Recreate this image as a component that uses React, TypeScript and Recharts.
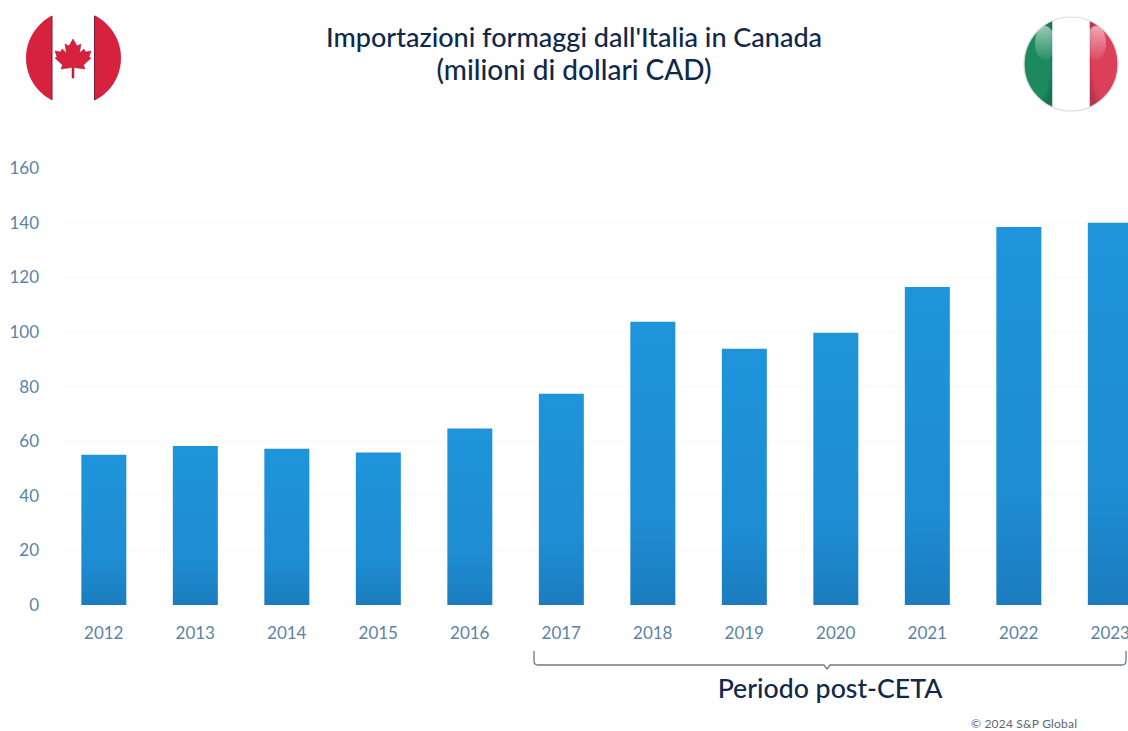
import { BarChart, Bar, XAxis, YAxis, CartesianGrid } from 'recharts'

const years = ['2012', '2013', '2014', '2015', '2016', '2017', '2018', '2019', '2020', '2021', '2022', '2023']
const imports = [55, 58.2, 57.2, 55.8, 64.6, 77.3, 103.7, 93.8, 99.7, 116.4, 138.4, 140]
const yTicks = [0, 20, 40, 60, 80, 100, 120, 140, 160]

const data = years.map((year, i) => ({ year, value: imports[i] }))

const NAVY = '#10294a'
const TICK = '#5a84a6'
const FONT = 'Lato, "Noto Sans", sans-serif'

function CanadaFlag() {
  return (
    <svg style={{ position: 'absolute', left: 20, top: 10, width: 106, height: 96 }} viewBox="20 10 106 96">
      <defs>
        <clipPath id="ca-disc">
          <circle cx="73.5" cy="58" r="47.5" />
        </clipPath>
      </defs>
      <g clipPath="url(#ca-disc)">
        <rect x="20" y="10" width="32" height="96" fill="#d6213f" />
        <rect x="94.5" y="10" width="32" height="96" fill="#d6213f" />
      </g>
      <line x1="52" y1="16" x2="52" y2="100" stroke="#7e1a30" strokeWidth="1" />
      <line x1="94.5" y1="16" x2="94.5" y2="100" stroke="#7e1a30" strokeWidth="1" />
      {/* maple leaf */}
      <path
        d="M73 39 L77 46 L81 44 L79.5 53 L84 49 L85.5 52 L91 51 L89 57 L91 58 L83.5 65 L85 69 L74 67.5 L74 78 L72 78 L72 67.5 L61 69 L62.5 65 L55 58 L57 57 L55 51 L60.5 52 L62 49 L66.5 53 L65 44 L69 46 Z"
        fill="#d6213f"
        stroke="#a51733"
        strokeWidth="0.5"
      />
    </svg>
  )
}

function ItalyFlag() {
  return (
    <svg style={{ position: 'absolute', left: 1018, top: 12, width: 106, height: 104 }} viewBox="1018 12 106 104">
      <defs>
        <clipPath id="it-disc">
          <circle cx="1071" cy="64" r="47" />
        </clipPath>
        <linearGradient id="it-gloss" x1="0" y1="0" x2="0" y2="1">
          <stop offset="0%" stopColor="#ffffff" stopOpacity="0.55" />
          <stop offset="100%" stopColor="#ffffff" stopOpacity="0.05" />
        </linearGradient>
        <radialGradient id="it-shade" cx="50%" cy="45%" r="55%">
          <stop offset="75%" stopColor="#000000" stopOpacity="0" />
          <stop offset="100%" stopColor="#000000" stopOpacity="0.18" />
        </radialGradient>
      </defs>
      <g clipPath="url(#it-disc)">
        <rect x="1018" y="12" width="34.5" height="104" fill="#1c8a5e" />
        <rect x="1089.5" y="12" width="34.5" height="104" fill="#dc3f58" />
        <rect x="1018" y="12" width="34.5" height="104" fill="url(#it-shade)" />
        <rect x="1089.5" y="12" width="34.5" height="104" fill="url(#it-shade)" />
        <rect x="1052.5" y="12" width="37" height="104" fill="#ffffff" />
        <ellipse cx="1045" cy="43" rx="10" ry="17" fill="url(#it-gloss)" />
        <ellipse cx="1096" cy="43" rx="10" ry="17" fill="url(#it-gloss)" />
      </g>
      <circle cx="1071" cy="64" r="47" fill="none" stroke="#dcdfdd" strokeWidth="1.2" />
    </svg>
  )
}

export default function App() {
  return (
    <div style={{ position: 'absolute', left: 0, top: 0, width: 1128, height: 731, overflow: 'hidden', background: '#fff', fontFamily: FONT }}>
      <CanadaFlag />
      <ItalyFlag />

      <div
        style={{
          position: 'absolute',
          left: 274,
          width: 600,
          top: 20,
          textAlign: 'center',
          color: NAVY,
          fontSize: 27,
          lineHeight: '33px',
          fontWeight: 500,
        }}
      >
        Importazioni formaggi dall'Italia in Canada
        <br />
        <span style={{ fontSize: 28 }}>(milioni di dollari CAD)</span>
      </div>

      <BarChart
        width={1170}
        height={731}
        data={data}
        margin={{ top: 168, right: 14, bottom: 0, left: 0 }}
        barCategoryGap="25.5%"
        style={{ position: 'absolute', left: 0, top: 0 }}
      >
        <defs>
          <linearGradient id="bar-fill" x1="0" y1="0" x2="0" y2="1">
            <stop offset="0%" stopColor="#1f94da" />
            <stop offset="70%" stopColor="#1e8dd3" />
            <stop offset="100%" stopColor="#1b7cbf" />
          </linearGradient>
        </defs>
        <CartesianGrid vertical={false} stroke="#f8f9f9" />
        <XAxis
          dataKey="year"
          height={126}
          tickLine={false}
          axisLine={false}
          tickMargin={16}
          interval={0}
          tick={{ fontSize: 17, fill: TICK, fontFamily: FONT }}
        />
        <YAxis
          domain={[0, 160]}
          ticks={yTicks}
          width={58}
          tickLine={false}
          axisLine={false}
          tickSize={0}
          tickMargin={19}
          tick={{ fontSize: 17, fill: TICK, fontFamily: FONT }}
        />
        <Bar dataKey="value" fill="url(#bar-fill)" isAnimationActive={false} />
      </BarChart>

      {/* bracket marking the post-CETA years */}
      <svg style={{ position: 'absolute', left: 0, top: 0, width: 1128, height: 731, pointerEvents: 'none' }}>
        <path
          d="M534 651 L534 661 Q534 665 538 665 L824 665 L827 669 L830 665 L1122 665 Q1126 665 1126 661 L1126 651"
          fill="none"
          stroke="#6d7a86"
          strokeWidth="1.3"
        />
      </svg>

      <div
        style={{
          position: 'absolute',
          left: 630,
          width: 400,
          top: 671,
          textAlign: 'center',
          color: NAVY,
          fontSize: 26.7,
          lineHeight: '34px',
          fontWeight: 500,
        }}
      >
        Periodo post-CETA
      </div>
      <div style={{ position: 'absolute', left: 971, top: 717, color: '#5b6670', fontSize: 12, lineHeight: '14px', letterSpacing: 0.2 }}>
        © 2024 S&amp;P Global
      </div>
    </div>
  )
}
